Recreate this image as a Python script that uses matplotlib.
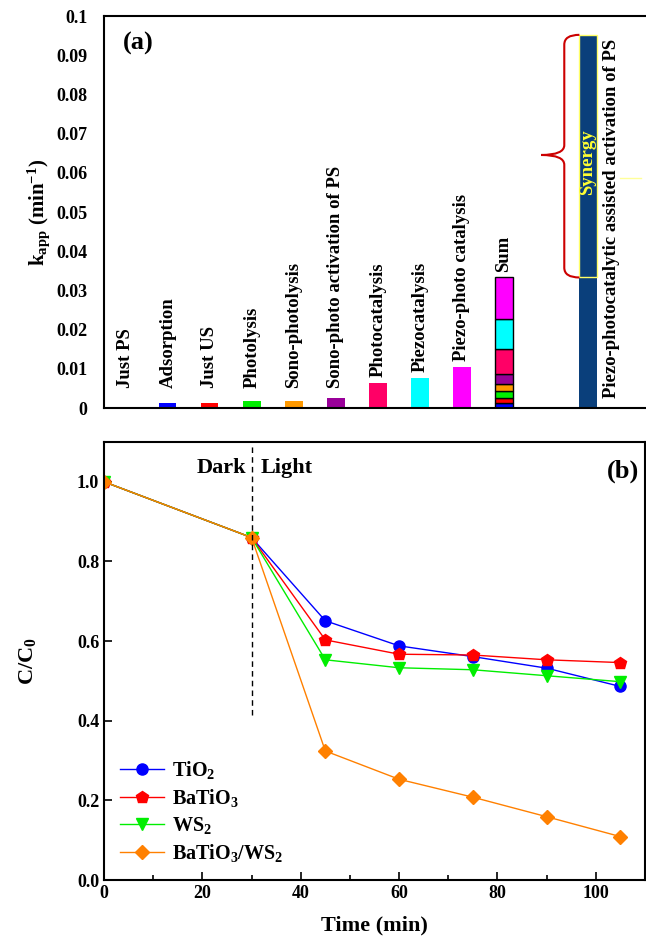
import numpy as np
import matplotlib
matplotlib.use("Agg")
import matplotlib.pyplot as plt
from matplotlib.path import Path
from matplotlib.patches import PathPatch

plt.rcParams['font.family'] = ['Liberation Serif', 'DejaVu Serif']
plt.rcParams['font.weight'] = 'bold'
plt.rcParams['axes.labelweight'] = 'bold'
plt.rcParams['mathtext.fontset'] = 'custom'
plt.rcParams['mathtext.rm'] = 'Liberation Serif:bold'
plt.rcParams['mathtext.it'] = 'Liberation Serif:bold'
plt.rcParams['mathtext.bf'] = 'Liberation Serif:bold'

# (a) rate constants
processes = ['Just PS', 'Adsorption', 'Just US', 'Photolysis', 'Sono-photolysis',
             'Sono-photo activation of PS', 'Photocatalysis', 'Piezocatalysis',
             'Piezo-photo catalysis']
k_app = [0.0, 0.0013, 0.0013, 0.0018, 0.0018, 0.0025, 0.0064, 0.0077, 0.0105]
bar_colors = ['#ffffff', '#0000ff', '#ff0000', '#00ee00', '#ff9900',
              '#990099', '#ff0066', '#00ffff', '#ff00ff']
combined_label = 'Piezo-photocatalytic assisted activation of PS'
k_combined = 0.0952

# (b) degradation curves
time = [0, 30, 45, 60, 75, 90, 105]
c_tio2 = [1.0, 0.86, 0.651, 0.588, 0.561, 0.532, 0.486]
c_batio3 = [1.0, 0.86, 0.603, 0.567, 0.565, 0.553, 0.546]
c_ws2 = [1.0, 0.86, 0.553, 0.533, 0.528, 0.513, 0.498]
c_comp = [1.0, 0.86, 0.324, 0.253, 0.208, 0.159, 0.109]

fig = plt.figure(figsize=(6.46, 9.48), dpi=100)

# ---------- panel (a) ----------
ax1 = fig.add_axes([0.161, 0.5696, 0.839, 0.4135])
w = 0.41
lab_fs = 13.5
for i, (v, c) in enumerate(zip(k_app, bar_colors)):
    if v > 0:
        ax1.bar(i, v, width=w, color=c, edgecolor='none')
    ax1.text(i, max(v, 0.0035) + 0.0015, processes[i], rotation=90,
             ha='center', va='bottom', fontsize=lab_fs, fontweight='bold')

# stacked sum bar
sum_x = len(processes)
bottom = 0.0
for v, c in zip(k_app[1:], bar_colors[1:]):
    ax1.bar(sum_x, v, width=w, bottom=bottom, color=c, edgecolor='black', linewidth=1)
    bottom += v
k_sum = bottom
ax1.text(sum_x, k_sum + 0.0015, 'Sum', rotation=90, ha='center', va='bottom',
         fontsize=lab_fs, fontweight='bold')

# combined process bar with synergy part
big_x = sum_x + 2
ax1.bar(big_x, k_combined, width=w, color='#0a3f7b', edgecolor='none')
ax1.bar(big_x, k_combined - k_sum, width=w, bottom=k_sum, facecolor='none',
        edgecolor='#ffff66', linewidth=1)
ax1.text(big_x, (k_sum + k_combined) / 2 - 0.0016, 'Synergy', rotation=90,
         ha='center', va='center', color='#ffff33', fontsize=lab_fs, fontweight='bold')
ax1.text(big_x + 0.55, 0.0025, combined_label, rotation=90, ha='center', va='bottom',
         fontsize=lab_fs, fontweight='bold')
ax1.plot([big_x + 0.75, big_x + 1.25], [0.0587, 0.0587], color='#ffff99', lw=1)

# curly brace beside the synergy portion
xr = big_x - w / 2
xv = xr - 0.36
xt = xv - 0.55
ym = (k_sum + k_combined) / 2 + 0.0003
d = 0.0025
verts = [(xr, k_combined), (xv, k_combined), (xv, k_combined - d),
         (xv, ym + d), (xv, ym), (xt, ym),
         (xv, ym), (xv, ym - d),
         (xv, k_sum + d), (xv, k_sum), (xr, k_sum)]
codes = [Path.MOVETO, Path.CURVE3, Path.CURVE3,
         Path.LINETO, Path.CURVE3, Path.CURVE3,
         Path.CURVE3, Path.CURVE3,
         Path.LINETO, Path.CURVE3, Path.CURVE3]
ax1.add_patch(PathPatch(Path(verts, codes), facecolor='none', edgecolor='#cc0000', lw=1.5))

ax1.set_xlim(-0.52, 12.38)
ax1.set_ylim(0, 0.1)
ax1.set_xticks([])
ax1.set_yticks(np.arange(0, 0.101, 0.01))
ax1.set_yticklabels(['0'] + ['%.2f' % t for t in np.arange(0.01, 0.095, 0.01)] + ['0.1'])
ax1.tick_params(axis='y', length=0, pad=12, labelsize=13)
for t in ax1.get_yticklabels():
    t.set_fontweight('bold')
ax1.spines['right'].set_visible(False)
for s in ['left', 'bottom', 'top']:
    ax1.spines[s].set_linewidth(1.5)
ax1.set_ylabel(r'k$_{\mathregular{app}}$ (min$^{\mathregular{-1}}$)', fontsize=15, labelpad=3)
ax1.text(0.035, 0.96, '(a)', transform=ax1.transAxes, fontsize=19,
         fontweight='bold', va='top')

# ---------- panel (b) ----------
ax2 = fig.add_axes([0.161, 0.0717, 0.8375, 0.4621])
ax2.plot(time, c_tio2, '-o', color='#0000ff', lw=1, ms=8, label=r'TiO$_2$')
ax2.plot(time, c_batio3, '-p', color='#ff0000', lw=1, ms=9, label=r'BaTiO$_3$')
ax2.plot(time, c_ws2, '-v', color='#00ee00', lw=1, ms=8.5, label=r'WS$_2$')
ax2.plot(time, c_comp, '-D', color='#ff8000', lw=1, ms=7, label=r'BaTiO$_3$/WS$_2$')

ax2.plot([30, 30], [0.415, 1.092], color='black', lw=1, ls=(0, (4, 3)))
ax2.text(29, 1.035, 'Dark', ha='right', va='center', fontsize=16, fontweight='bold')
ax2.text(31.8, 1.035, 'Light', ha='left', va='center', fontsize=16, fontweight='bold')
ax2.text(0.99, 0.96, '(b)', transform=ax2.transAxes, fontsize=19,
         fontweight='bold', ha='right', va='top')

ax2.set_xlim(0, 110)
ax2.set_ylim(0, 1.1)
ax2.set_xticks([0, 20, 40, 60, 80, 100])
ax2.set_xticks([10, 30, 50, 70, 90], minor=True)
ax2.set_yticks([0.0, 0.2, 0.4, 0.6, 0.8, 1.0])
ax2.set_yticklabels(['0.0', '0.2', '0.4', '0.6', '0.8', '1.0'])
ax2.tick_params(which='both', direction='in', labelsize=13)
ax2.tick_params(which='major', length=6, width=1.2)
ax2.tick_params(which='minor', length=3.5, width=1.2)
ax2.tick_params(axis='y', which='minor', length=0)
for t in ax2.get_xticklabels() + ax2.get_yticklabels():
    t.set_fontweight('bold')
for s in ax2.spines.values():
    s.set_linewidth(1.5)
ax2.set_xlabel('Time (min)', fontsize=16, labelpad=10)
ax2.set_ylabel(r'C/C$_0$', fontsize=16, labelpad=28)

leg = ax2.legend(loc='lower left', frameon=False, fontsize=14.5, handlelength=2.2,
                 labelspacing=0.3, borderaxespad=0.4, handletextpad=0.4)
for t in leg.get_texts():
    t.set_fontweight('bold')

fig.savefig('out.png', dpi=100)
